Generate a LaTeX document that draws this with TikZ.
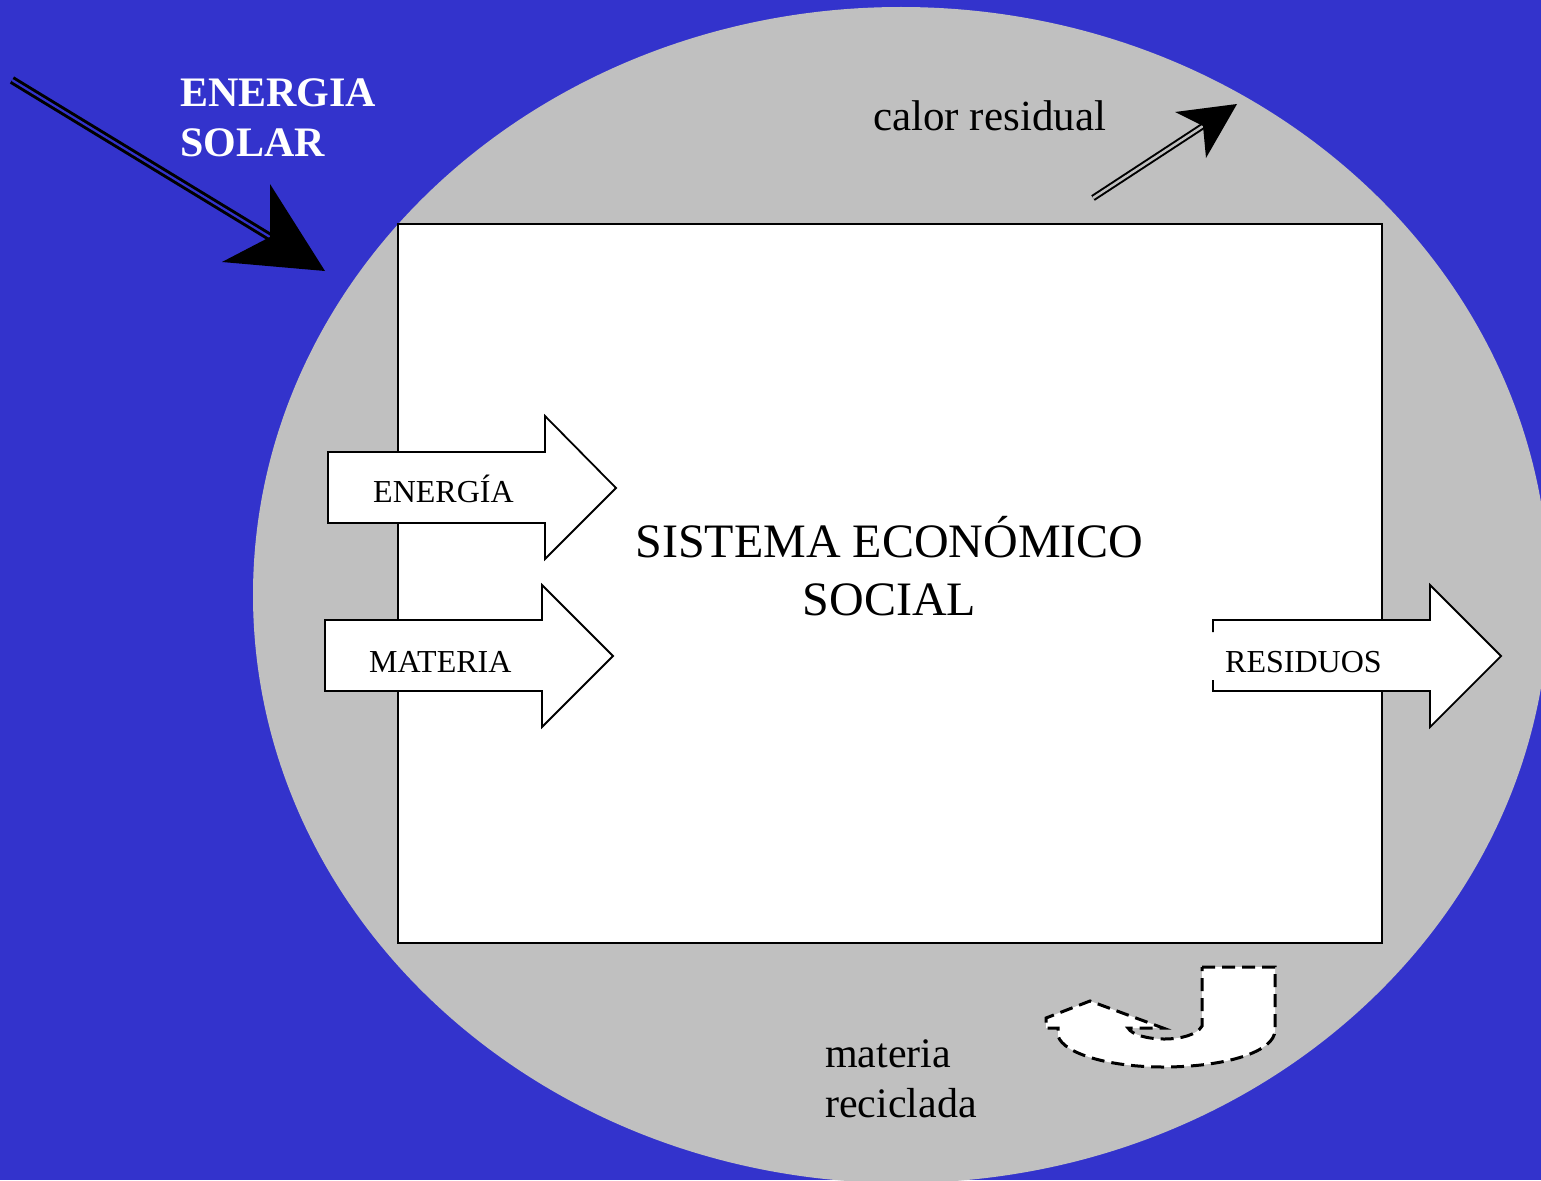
\documentclass[tikz,border=0pt]{standalone}
\usepackage{fontspec}
\setmainfont{Liberation Serif}
\definecolor{skyblue}{RGB}{51,51,204}
\definecolor{earthgray}{RGB}{192,192,192}

\begin{document}
\begin{tikzpicture}[x=1pt, y=-1pt,
    flowarrow/.style={draw=black, fill=white, line width=1.8pt, line join=miter},
    flowtext/.style={anchor=base west, inner sep=0pt, font=\fontsize{32}{38}\selectfont},
    bigtext/.style={anchor=base west, inner sep=0pt, align=left, font=\fontsize{43}{50}\selectfont},
    recycle/.style={draw=black, fill=white, line width=3pt, dash pattern=on 13pt off 7pt, line join=miter}]
  \useasboundingbox (0,0) rectangle (1541,1180);
  \fill[skyblue] (0,0) rectangle (1541,1180);
  \fill[earthgray] (901,595) ellipse [x radius=648, y radius=588];

  \node[draw, fill=white, line width=1.8pt, minimum width=984pt, minimum height=719pt, inner sep=0pt] (sistema) at (890,583.5) {};
  \node[anchor=base, align=center, inner sep=0pt, font=\fontsize{48}{58}\selectfont] (sistlbl) at (889.5,615) {SISTEMA ECONÓMICO\\SOCIAL};

  \draw[flowarrow] (328,452) -- (545,452) -- (545,416) -- (616,488) -- (545,559) -- (545,523) -- (328,523) -- cycle;
  \node[flowtext] (energialbl) at (373,502) {ENERGÍA};
  \draw[flowarrow] (325,620) -- (542,620) -- (542,585) -- (613,656) -- (542,727) -- (542,691) -- (325,691) -- cycle;
  \node[flowtext] (materialbl) at (369,672) {MATERIA};
  \fill[white] (1213,620) -- (1430,620) -- (1430,585) -- (1501,656) -- (1430,727) -- (1430,691) -- (1213,691) -- cycle;
  \draw[flowarrow, fill=none] (1213,632) -- (1213,620) -- (1430,620) -- (1430,585) -- (1501,656) -- (1430,727) -- (1430,691) -- (1213,691) -- (1213,680);
  \node[flowtext] (residuoslbl) at (1225,672) {RESIDUOS};

  \coordinate (solarfrom) at (12,80);
  \coordinate (solarnotch) at (270,237);
  \coordinate (solartip) at (325,271);
  \draw[line width=3pt, double=skyblue, double distance=2.2pt] (solarfrom) -- (solarnotch);
  \fill (solartip) -- (270,184) -- (solarnotch) -- (222,262) -- cycle;
  \node[bigtext, text=white, font=\bfseries\fontsize{42}{50}\selectfont] (solarlbl) at (180,157) {ENERGIA\\SOLAR};

  \coordinate (calorfrom) at (1093,198);
  \coordinate (calornotch) at (1203,126);
  \coordinate (calortip) at (1237,104);
  \draw[line width=2pt, double=earthgray, double distance=2.5pt] (calorfrom) -- (calornotch);
  \fill (calortip) -- (1175,112) -- (calornotch) -- (1206,158) -- cycle;
  \node[bigtext] (calorlbl) at (873,131) {calor residual};

  \draw[recycle] (1202,967) -- (1275,967) -- (1275,1030)
    .. controls (1275,1052) and (1225,1067) .. (1163,1067)
    .. controls (1110,1067) and (1064,1054) .. (1058,1036)
    -- (1058,1028) -- (1046,1028) -- (1046,1018) -- (1090,1001) -- (1163,1028) -- (1128,1028)
    .. controls (1136,1042) and (1192,1044) .. (1202,1026) -- cycle;
  \node[bigtext, font=\fontsize{42}{50}\selectfont] (reciclalbl) at (825,1117) {materia\\reciclada};
\end{tikzpicture}
\end{document}
